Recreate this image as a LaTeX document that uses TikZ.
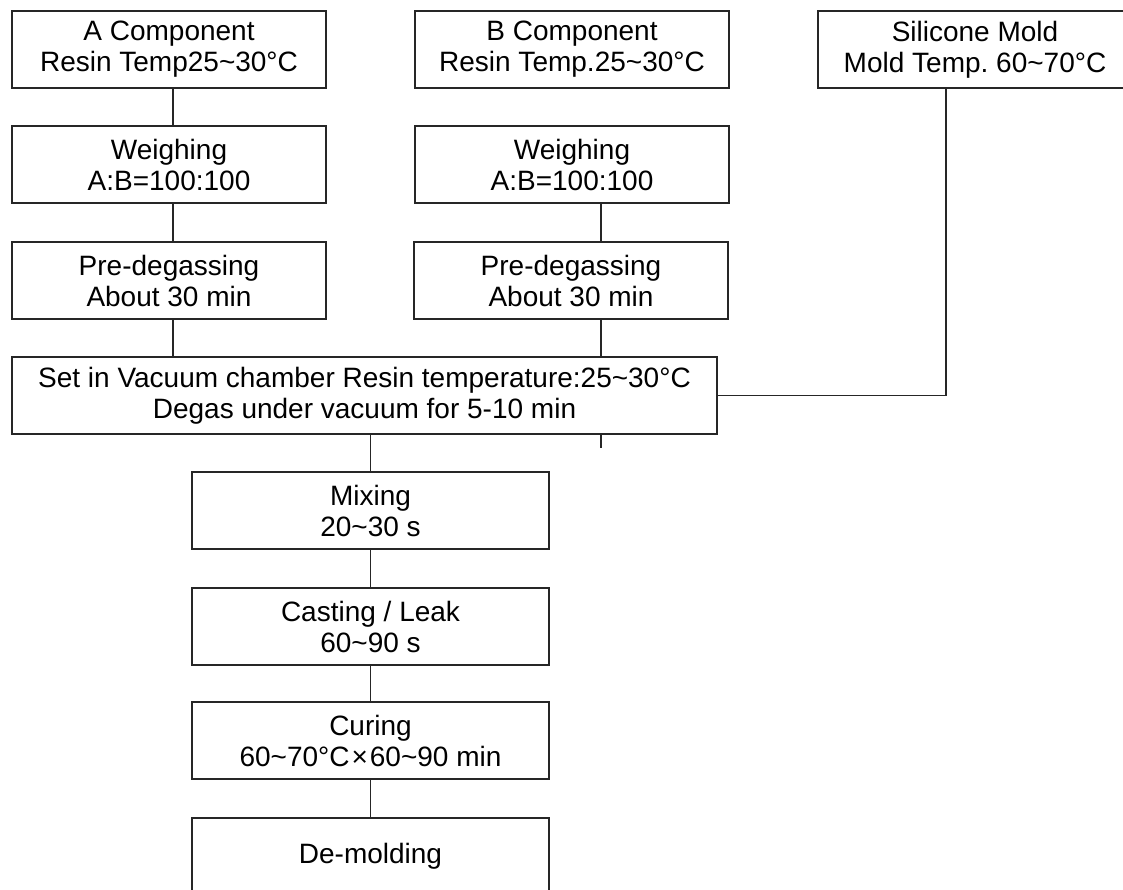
\documentclass[tikz,border=0pt]{standalone}
\usepackage{fontspec}
\setmainfont{Liberation Sans}
\frenchspacing
\newcommand{\tld}{\textasciitilde}
\newcommand{\crossx}{\hspace{2pt}×\hspace{2pt}}
\begin{document}
\begin{tikzpicture}[x=1pt, y=-1pt]
\useasboundingbox (0, 0) rectangle (1123, 889);
\begin{scope}[every node/.style = {rectangle, draw=black!85, line width=1.2pt, minimum width=314pt, minimum height=77pt, inner sep=0pt, align=center, font=\fontsize{28}{31}\selectfont}]
\node (Acomp) at (169, 49.5) {A Component\\Resin Temp25\tld30°C};
\node (Aweigh) at (169, 164.5) {Weighing\\A:B=100:100};
\node (Apre) at (169, 280.5) {Pre-degassing\\About 30 min};
\node (Bcomp) at (572, 49.5) {B Component\\Resin Temp.25\tld30°C};
\node (Bweigh) at (572, 164.5) {Weighing\\A:B=100:100};
\node (Bpre) at (571, 280.5) {Pre-degassing\\About 30 min};
\node (Mold) at (975, 49.5) {Silicone Mold\\Mold Temp. 60\tld70°C};
\node[minimum width=705pt] (Vac) at (364.5, 395.5) {Set in Vacuum chamber Resin temperature:25\tld30°C\\Degas under vacuum for 5-10 min};
\node[minimum width=357pt] (Mix) at (370.5, 510.5) {Mixing\\20\tld30 s};
\node[minimum width=357pt] (Cast) at (370.5, 626.5) {Casting / Leak\\60\tld90 s};
\node[minimum width=357pt] (Cure) at (370.5, 740.5) {Curing\\60\tld70°C\crossx60\tld90 min};
\node[minimum width=357pt] (Demold) at (370.5, 856.5) {De-molding};
\end{scope}
\coordinate (aline) at (173, 0);
\coordinate (bline) at (601, 0);
\coordinate (sline) at (946, 0);
\coordinate (bstub) at (601, 448);
\begin{scope}[every path/.style = {draw=black!85, line width=1.2pt}]
\draw (Acomp.south -| aline) -- (Aweigh.north -| aline);
\draw (Aweigh.south -| aline) -- (Apre.north -| aline);
\draw (Apre.south -| aline) -- (Vac.north -| aline);
\draw (Bweigh.south -| bline) -- (Bpre.north -| bline);
\draw (Bpre.south -| bline) -- (Vac.north -| bline);
\draw (Vac.south -| bstub) -- (bstub);
\draw (Mold.south -| sline) |- (Vac.east);
\draw (Vac.south -| Mix.north) -- (Mix.north);
\draw (Mix.south) -- (Cast.north);
\draw (Cast.south) -- (Cure.north);
\draw (Cure.south) -- (Demold.north);
\end{scope}
\end{tikzpicture}
\end{document}
